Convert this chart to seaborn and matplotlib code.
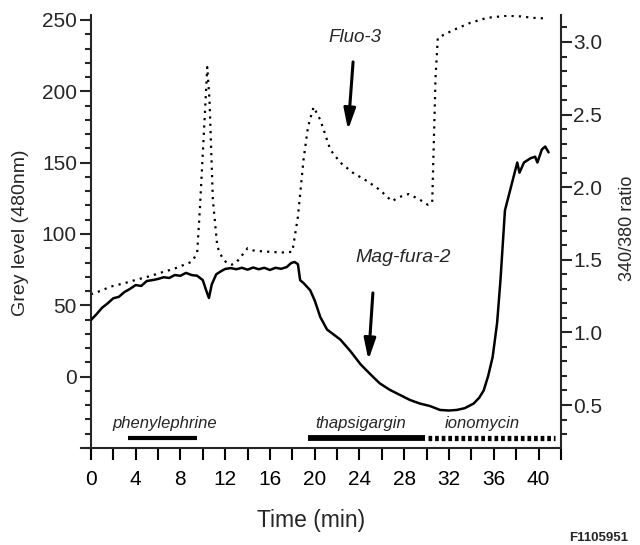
import matplotlib
matplotlib.use("Agg")
import matplotlib.pyplot as plt
from matplotlib.ticker import MultipleLocator
import seaborn as sns
import pandas as pd

# ---------------- data ----------------
# Fluo-3 grey level (480 nm), left axis
fluo_time = [0.0, 1.0, 1.7, 3.0, 4.1, 5.3, 6.5, 7.4, 8.2, 9.0, 9.3, 9.5, 9.75, 10.1,
             10.4, 10.6, 10.9, 11.3, 11.7, 12.1, 12.6, 13.0, 13.5, 14.0, 14.5,
             15.0, 16.0, 17.0, 18.0, 18.5, 19.0, 19.4, 19.9, 20.3, 20.5, 21.4,
             22.3, 23.4, 24.7, 25.8, 26.9, 27.6, 28.4, 29.4, 30.1, 30.5, 30.8,
             31.0, 32.4, 33.9, 35.4, 37.2, 38.4, 39.5, 40.8]
fluo_grey = [57.7, 60.5, 63.0, 65.5, 68.0, 70.5, 73.5, 75.5, 78.0, 80.5, 84.0, 87.0,
             119.0, 171.0, 217.0, 194.0, 124.0, 91.0, 84.0, 80.0, 78.5, 80.0,
             85.0, 90.0, 88.5, 88.0, 87.5, 87.0, 87.5, 112.0, 152.0, 175.0,
             189.0, 183.0, 180.0, 159.0, 150.0, 143.0, 137.0, 131.0, 123.0,
             126.0, 128.0, 124.0, 120.5, 122.0, 210.0, 237.5, 243.0, 248.0,
             251.5, 253.0, 252.5, 251.5, 251.0]

# Mag-fura-2 340/380 ratio, right axis
mag_time = [0.0, 0.5, 1.0, 1.5, 2.0, 2.5, 3.0, 3.5, 4.0, 4.5, 5.0, 5.5, 6.0, 6.5,
            7.0, 7.5, 8.0, 8.5, 9.0, 9.5, 10.0, 10.3, 10.55, 10.8, 11.2, 11.6,
            12.0, 12.5, 13.0, 13.5, 14.0, 14.5, 15.0, 15.5, 16.0, 16.5, 17.0,
            17.5, 17.9, 18.2, 18.5, 18.7, 19.0, 19.6, 20.0, 20.5, 21.1, 22.3,
            23.2, 24.1, 25.0, 25.8, 26.7, 27.6, 28.5, 29.4, 30.3, 31.2, 32.0,
            32.7, 33.4, 34.2, 34.7, 35.1, 35.5, 35.9, 36.3, 36.6, 37.0, 37.7,
            38.1, 38.3, 38.7, 39.3, 39.7, 39.9, 40.3, 40.6, 40.9]
mag_ratio = [1.085, 1.125, 1.17, 1.20, 1.235, 1.245, 1.278, 1.30, 1.326, 1.32,
             1.354, 1.36, 1.368, 1.38, 1.375, 1.395, 1.39, 1.41, 1.395, 1.39,
             1.36, 1.29, 1.237, 1.33, 1.40, 1.42, 1.437, 1.443, 1.435, 1.445,
             1.432, 1.447, 1.435, 1.445, 1.43, 1.445, 1.438, 1.45, 1.478, 1.485,
             1.47, 1.36, 1.34, 1.29, 1.22, 1.106, 1.02, 0.95, 0.87, 0.78, 0.71,
             0.65, 0.605, 0.57, 0.535, 0.51, 0.493, 0.466, 0.462, 0.466, 0.478,
             0.51, 0.55, 0.60, 0.70, 0.83, 1.065, 1.36, 1.84, 2.05, 2.17, 2.10,
             2.17, 2.20, 2.21, 2.17, 2.26, 2.28, 2.24]

# treatment bars
drugs = ["phenylephrine", "thapsigargin", "ionomycin"]
drug_start = [3.3, 19.4, 30.1]
drug_end = [9.5, 29.9, 41.5]

x_ticks = [0, 4, 8, 12, 16, 20, 24, 28, 32, 36, 40]
left_ticks = [0, 50, 100, 150, 200, 250]
right_ticks = [0.5, 1.0, 1.5, 2.0, 2.5, 3.0]

fluo_df = pd.DataFrame({"time": fluo_time, "grey": fluo_grey})
mag_df = pd.DataFrame({"time": mag_time, "ratio": mag_ratio})

# ---------------- style ----------------
sns.set_theme(style="ticks")
plt.rcParams["font.family"] = ["Liberation Sans", "DejaVu Sans"]
plt.rcParams["axes.linewidth"] = 1.5

fig = plt.figure(figsize=(6.4, 5.45), dpi=100)
ax = fig.add_axes([0.142, 0.178, 0.7344, 0.7945])
ax2 = ax.twinx()
ax2.set_position([0.142, 0.178, 0.7344, 0.7945])

sns.lineplot(data=fluo_df, x="time", y="grey", ax=ax, color="black",
             linewidth=1.6, linestyle=(0, (1, 2.3)), estimator=None, sort=False)
sns.lineplot(data=mag_df, x="time", y="ratio", ax=ax2, color="black",
             linewidth=1.8, estimator=None, sort=False)

ax.set_xlim(0, 42)
ax.set_ylim(-50, 253.5)
ax2.set_ylim(0.204, 3.186)

ax.set_xticks(x_ticks)
ax.xaxis.set_minor_locator(MultipleLocator(2))
ax.set_yticks(left_ticks)
ax.yaxis.set_minor_locator(MultipleLocator(10))
ax2.set_yticks(right_ticks)
ax2.set_yticklabels([f"{v:.1f}" for v in right_ticks])
ax2.yaxis.set_minor_locator(MultipleLocator(0.1))

for a in (ax, ax2):
    a.spines["top"].set_visible(False)
ax.spines["right"].set_visible(False)
ax2.spines["left"].set_visible(False)
ax2.spines["bottom"].set_visible(False)
ax.spines["bottom"].set_bounds(-0.9, 42)

ax.tick_params(axis="x", which="both", direction="out", length=8.5, width=1.5,
               labelsize=15, pad=7, colors="black")
ax.tick_params(axis="y", which="major", direction="out", length=8, width=1.5,
               labelsize=15, pad=2)
ax.tick_params(axis="y", which="minor", direction="out", length=4.5, width=1.5)
ax2.tick_params(axis="y", which="major", direction="out", length=8, width=1.5,
                labelsize=15, pad=1)
ax2.tick_params(axis="y", which="minor", direction="out", length=4.5, width=1.5)

ax.set_xlabel("Time (min)", fontsize=16.5)
ax.xaxis.set_label_coords(0.468, -0.1686)
ax.xaxis.label.set_verticalalignment("center")
ax.set_ylabel("Grey level (480nm)", fontsize=14)
ax.yaxis.set_label_coords(-0.149, 0.497)
ax.yaxis.label.set_verticalalignment("center")
ax2.set_ylabel("340/380 ratio", fontsize=13, rotation=90)
ax2.yaxis.set_label_coords(1.1426, 0.507)
ax2.yaxis.label.set_verticalalignment("center")

# treatment bars and labels
bar_y = -43
label_y = -36
label_x = [6.6, 24.1, 35.0]
ax.plot([drug_start[0], drug_end[0]], [bar_y, bar_y], color="black", lw=3,
        solid_capstyle="butt")
ax.plot([drug_start[1], drug_end[1]], [bar_y, bar_y], color="black", lw=4.2,
        solid_capstyle="butt")
ax.plot([drug_start[2], drug_end[2]], [bar_y, bar_y], color="black", lw=3.8,
        linestyle=(0, (0.7, 0.55)), dash_capstyle="butt")
for name, lx in zip(drugs, label_x):
    ax.text(lx, label_y, name, ha="center", va="baseline", fontsize=12,
            style="italic")

# annotations
ax.text(23.6, 234.5, "Fluo-3", ha="center", va="baseline", fontsize=13.5,
        style="italic")
ax.annotate("", xy=(22.98, 172.9), xytext=(23.43, 220.6),
            arrowprops=dict(arrowstyle="-|>,head_length=0.9,head_width=0.25",
                            color="black", lw=2.2, mutation_scale=14,
                            shrinkA=0, shrinkB=0))
ax.text(27.9, 80.4, "Mag-fura-2", ha="center", va="baseline", fontsize=14,
        style="italic")
ax.annotate("", xy=(24.8, 11.7), xytext=(25.2, 58.7),
            arrowprops=dict(arrowstyle="-|>,head_length=0.9,head_width=0.25",
                            color="black", lw=2.2, mutation_scale=14,
                            shrinkA=0, shrinkB=0))

fig.text(599 / 640, 1 - 538 / 545, "F1105951", ha="center", va="center",
         fontsize=9.5, weight="bold")

fig.savefig("out.png", dpi=100)
